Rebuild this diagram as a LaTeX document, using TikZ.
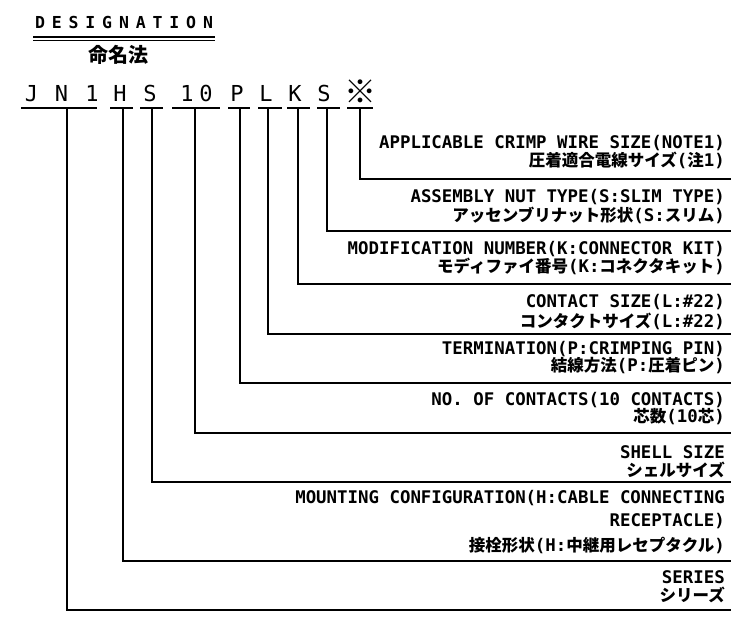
\documentclass[tikz,border=0pt]{standalone}
\usepackage{fontspec}
\newfontfamily\mono{DejaVu Sans Mono}
\newfontfamily\jpf{Noto Sans CJK JP}
\newcommand\J[1]{{\jpf\fontsize{16.5}{18}\selectfont #1}}
\begin{document}
\begin{tikzpicture}[x=1pt,y=-1pt,
  lbl/.style={anchor=base east,inner sep=0pt,font=\mono\bfseries\fontsize{17.4}{20}\selectfont},
  lat/.style={lbl,text height=12pt,text depth=0pt},
  jap/.style={lbl,text height=11pt,text depth=1pt},
  ttl/.style={anchor=base,inner sep=0pt,font=\mono\bfseries\fontsize{16.5}{18}\selectfont},
  code/.style={anchor=base,inner sep=0pt,font=\mono\fontsize{22}{24}\selectfont},
  ln/.style={line width=1.4pt},
  uln/.style={line width=1.2pt}]
\useasboundingbox (0,0) rectangle (732,618);
% title
\foreach \ch [count=\i from 0] in {D,E,S,I,G,N,A,T,I,O,N}
  \node[ttl] (d\i) at ({40+16.8*\i},29) {\ch};
\draw[uln] (33,37) -- (215,37);
\draw[uln] (33,40.5) -- (215,40.5);
\node[anchor=base,inner sep=0pt,font=\jpf\bfseries\fontsize{20}{22}\selectfont] (mei) at (118.5,63) {命名法};
% code letters
\foreach \ch/\x [count=\i] in {J/31.5,N/61.5,1/92,H/120,S/150,1/187,0/206,P/237,L/266,K/295,S/324}
  \node[code] (c\i) at (\x,102) {\ch};
\node[anchor=base,inner sep=0pt,font=\jpf\fontsize{32}{34}\selectfont] (c12) at (360,104) {※};
% underline segments
\foreach \a/\b [count=\i] in {21/97,110/133,140/163,172/220,228/250,258/282,287/310,317/340,347/373}{
  \coordinate (ul\i) at (\a,108);
  \coordinate (ur\i) at (\b,108);
  \draw[ln] (ul\i) -- (ur\i);
}
% stems and leader lines
\foreach \x/\y [count=\i] in {67/610,123/561,152/482,195/433,240/383,268/334,298/284,327/231,360/179}{
  \coordinate (s\i) at (\x,108);
  \coordinate (e\i) at (731,\y);
  \draw[ln] (s\i) |- (e\i);
}
% labels
\node[lat] (t1a) at (725,149) {APPLICABLE CRIMP WIRE SIZE(NOTE1)};
\node[jap] (t1b) at (725,166) {\J{圧着適合電線サイズ}(\J{注}1)};
\node[lat] (t2a) at (725,202) {ASSEMBLY NUT TYPE(S:SLIM TYPE)};
\node[jap] (t2b) at (725,221) {\J{アッセンブリナット形状}(S:\J{スリム})};
\node[lat] (t3a) at (725,254) {MODIFICATION NUMBER(K:CONNECTOR KIT)};
\node[jap] (t3b) at (725,272) {\J{モディファイ番号}(K:\J{コネクタキット})};
\node[lat] (t4a) at (725,307.5) {CONTACT SIZE(L:\#22)};
\node[jap] (t4b) at (725,327.5) {\J{コンタクトサイズ}(L:\#22)};
\node[lat] (t5a) at (725,354) {TERMINATION(P:CRIMPING PIN)};
\node[jap] (t5b) at (725,371) {\J{結線方法}(P:\J{圧着ピン})};
\node[lat] (t6a) at (725,405) {NO. OF CONTACTS(10 CONTACTS)};
\node[jap] (t6b) at (725,422) {\J{芯数}(10\J{芯})};
\node[lat] (t7a) at (725,458) {SHELL SIZE};
\node[jap] (t7b) at (725,476) {\J{シェルサイズ}};
\node[lat] (t8a) at (725,503) {MOUNTING CONFIGURATION(H:CABLE CONNECTING};
\node[lat] (t8b) at (725,526) {RECEPTACLE)};
\node[jap] (t8c) at (725,551) {\J{接栓形状}(H:\J{中継用レセプタクル})};
\node[lat] (t9a) at (725,583) {SERIES};
\node[jap] (t9b) at (725,601) {\J{シリーズ}};
\end{tikzpicture}
\end{document}
